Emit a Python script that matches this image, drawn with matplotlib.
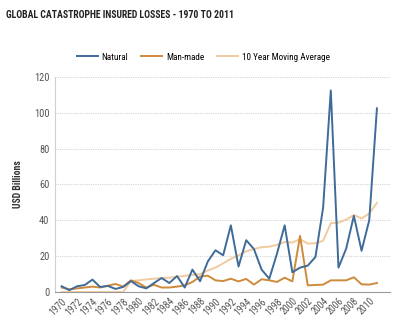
import matplotlib
matplotlib.use("Agg")
from matplotlib import pyplot as plt
from matplotlib import font_manager

# data (USD billions)
years = list(range(1970, 2012))
natural = [3.2, 1.0, 3.2, 3.9, 6.9, 2.8, 3.4, 1.7, 2.8, 6.1,
           3.2, 2.0, 5.0, 7.8, 5.0, 8.9, 2.5, 12.5, 6.0, 17.0,
           23.3, 20.5, 37.2, 14.2, 28.9, 24.0, 12.5, 7.4, 21.4, 37.2,
           11.0, 13.6, 14.7, 19.5, 47.0, 112.5, 13.6, 24.2, 42.5, 23.0,
           40.0, 102.5]
manmade = [2.5, 1.5, 2.0, 2.5, 3.0, 2.5, 3.5, 4.5, 3.0, 6.5,
           5.0, 2.5, 4.0, 2.5, 2.5, 3.0, 3.7, 5.6, 8.6, 9.1,
           6.5, 6.1, 7.4, 5.9, 7.3, 4.1, 7.1, 6.5, 5.6, 8.0,
           5.9, 31.3, 3.7, 3.9, 4.1, 6.5, 6.5, 6.5, 8.2, 4.3,
           4.1, 5.0]
moving_avg = [0, 0, 0, 0, 0, 0, 0, 0, 0, 6.2,
              6.5, 7.0, 7.4, 7.8, 8.0, 8.5, 9.0, 9.5, 10.0, 12.0,
              13.6, 16.0, 18.5, 20.5, 22.7, 24.0, 25.0, 25.3, 26.3, 27.9,
              27.6, 29.5, 27.0, 27.2, 28.6, 38.4, 38.7, 40.4, 43.0, 41.0,
              43.8, 49.7]
xticks = list(range(1970, 2011, 2))

# narrow font if there is one
names = set(f.name for f in font_manager.fontManager.ttflist)
fams = [n for n in ['Liberation Sans Narrow', 'DejaVu Sans Condensed', 'Roboto Condensed'] if n in names]
plt.rcParams['font.family'] = fams + ['Liberation Sans', 'DejaVu Sans']
narrow = len(fams) > 0

fig = plt.figure(figsize=(4, 3.28), dpi=100)
ax = fig.add_axes([0.1375, 0.1098, 0.8375, 0.6554])

ax.plot(years, natural, color='#3f6b99', lw=1.4, label='Natural', zorder=3)
ax.plot(years, manmade, color='#cf8a3c', lw=1.4, label='Man-made', zorder=2)
ax.plot(years, moving_avg, color='#f1cb9f', lw=1.4, label='10 Year Moving Average', zorder=1)

ax.set_ylim(0, 120)
ax.set_xlim(1969.13, 2012.7)
ax.set_yticks(range(0, 121, 20))
ax.set_xticks(xticks)
ax.set_xticklabels([str(y) for y in xticks], rotation=45, ha='right',
                   rotation_mode='anchor', fontsize=7, color='#555555')
ax.tick_params(axis='y', labelsize=7.5, colors='#555555', length=0, pad=4)
ax.tick_params(axis='x', length=0, pad=3)

ax.yaxis.grid(True, linestyle=(0, (1, 1)), color='#d5d5d5', lw=0.8)
ax.set_axisbelow(True)
for s in ['top', 'right']:
    ax.spines[s].set_visible(False)
ax.spines['left'].set_color('#d0d0d0')
ax.spines['bottom'].set_color('#999999')

ax.set_ylabel('USD Billions', fontsize=7, fontweight='bold', color='#333333', labelpad=8)

title_size = 7.0 if narrow else 6.6
fig.text(0.015, 0.955, 'GLOBAL CATASTROPHE INSURED LOSSES - 1970 TO 2011',
         fontsize=title_size, fontweight='bold', color='#222222', va='center')

fig.legend(loc='center', bbox_to_anchor=(0.508, 0.826), ncol=3, frameon=False,
           fontsize=6.6 if narrow else 6.0, handlelength=2.3, columnspacing=1.4,
           handletextpad=0.4)

fig.savefig('out.png', dpi=100)
